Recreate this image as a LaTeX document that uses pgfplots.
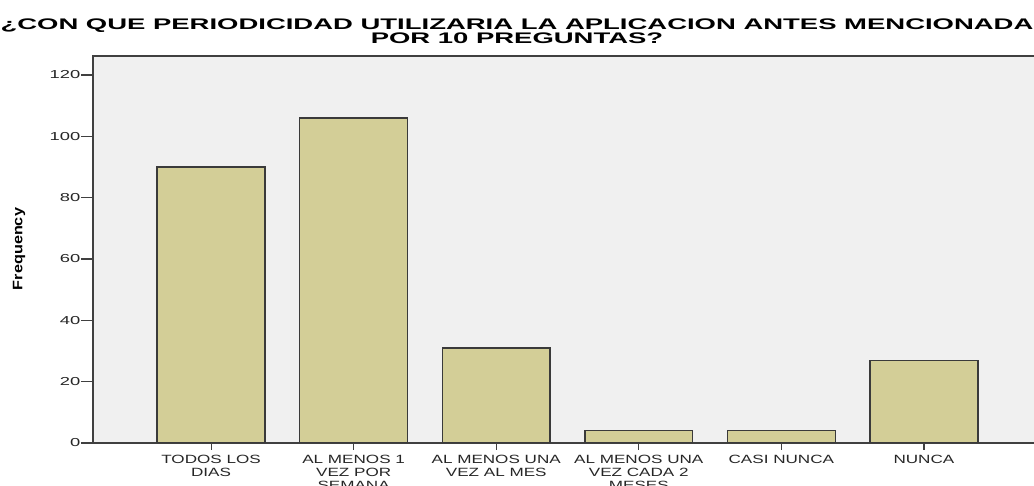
\documentclass[border=0pt]{standalone}
\usepackage{fontspec}
\setmainfont{Liberation Sans}
\newfontfamily\titlefont[FakeStretch=1.79]{Liberation Sans}
\newfontfamily\tickfont[FakeStretch=1.59]{Liberation Sans}
\newfontfamily\catfont[FakeStretch=1.43]{Liberation Sans}
\newfontfamily\labfont[FakeStretch=1.18]{Liberation Sans}
\usepackage{pgfplots}
\pgfplotsset{compat=1.18}
\definecolor{bg}{HTML}{F0F0F0}
\definecolor{barfill}{HTML}{D3CE97}
\definecolor{baredge}{HTML}{3A3A3A}
\definecolor{axcol}{HTML}{404040}
\begin{document}
\begin{tikzpicture}
\path[use as bounding box] (0,0) rectangle (1034bp,486bp);
\begin{axis}[
  at={(93bp,43bp)}, anchor=south west,
  scale only axis,
  width=949bp, height=387bp,
  xmin=-0.828, xmax=5.828,
  ymin=0, ymax=126.2,
  axis background/.style={fill=bg},
  axis line style={axcol, line width=1.1bp},
  ytick={0,20,...,120},
  tick align=outside,
  xtick pos=bottom, ytick pos=left,
  major tick length=12bp,
  ytick style={axcol, line width=1.1bp},
  xtick=\empty,
  extra x ticks={0,1,2,3,4,5},
  extra x tick labels={TODOS LOS\\DIAS, AL MENOS 1\\VEZ POR\\SEMANA, AL MENOS UNA\\VEZ AL MES, AL MENOS UNA\\VEZ CADA 2\\MESES, CASI NUNCA, NUNCA},
  extra x tick style={major tick length=7bp, tick style={axcol, line width=1.1bp}, grid=none, xtick pos=bottom,
    xticklabel style={align=center, font=\catfont\fontsize{12}{13.2}\selectfont, text=black!85, inner sep=1pt, yshift=-4bp}},
  /pgf/number format/assume math mode=true,
  yticklabel style={font=\tickfont\fontsize{11.6}{12}\selectfont, text=black!85, inner sep=0.5pt},
  ybar, bar width=0.757, bar shift=0pt,
]
\addplot[draw=baredge, fill=barfill, line width=1.4bp] coordinates {(0,90) (1,106) (2,31) (3,4) (4,4) (5,27)};
\end{axis}
\node[anchor=base, inner sep=0pt] at (517bp,456.7bp) {\titlefont\bfseries\fontsize{15.4}{14}\selectfont ¿CON QUE PERIODICIDAD UTILIZARIA LA APLICACION ANTES MENCIONADA};
\node[anchor=base, inner sep=0pt] at (517bp,442.7bp) {\titlefont\bfseries\fontsize{15.4}{14}\selectfont POR 10 PREGUNTAS?};
\node[rotate=90, inner sep=0pt] at (19bp,237bp) {\labfont\bfseries\fontsize{13.8}{14}\selectfont Frequency};
\end{tikzpicture}
\end{document}
